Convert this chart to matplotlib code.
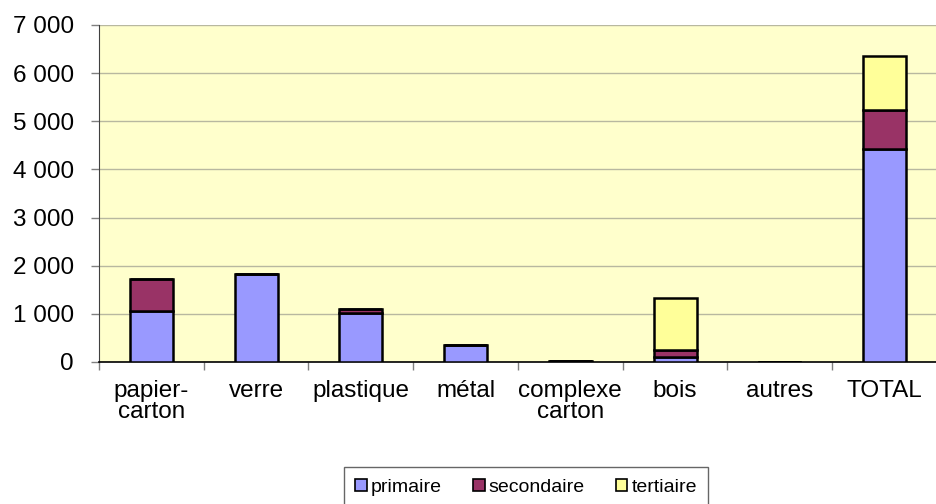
import matplotlib
matplotlib.use("Agg")
import matplotlib.pyplot as plt
import numpy as np
from matplotlib.patches import Patch

categories = ["papier-\ncarton", "verre", "plastique", "métal", "complexe\ncarton", "bois", "autres", "TOTAL"]
primaire = [1060, 1830, 1025, 350, 15, 110, 10, 4425]
secondaire = [665, 0, 80, 0, 0, 140, 0, 805]
tertiaire = [0, 0, 0, 0, 0, 1085, 0, 1130]
series_names = ["primaire", "secondaire", "tertiaire"]
colors = ["#9999FF", "#993366", "#FFFF99"]

plt.rcParams["font.family"] = ["Liberation Sans", "DejaVu Sans"]

fig = plt.figure(figsize=(9.37, 5.04), dpi=100)
ax = fig.add_axes([99 / 937, 1 - 362 / 504, 1 - 99 / 937, (362 - 25) / 504])
ax.set_facecolor("#FFFFCC")

x = np.arange(len(categories))
bottom = np.zeros(len(categories))
for vals, col in zip([primaire, secondaire, tertiaire], colors):
    vals = np.array(vals, dtype=float)
    ax.bar(x, vals, width=0.41, bottom=bottom, color=col, edgecolor="black",
           linewidth=1.8, zorder=3)
    bottom += vals

ax.set_xlim(-0.5, len(categories) - 0.5)
ax.set_ylim(0, 7000)
ax.set_yticks(range(0, 7001, 1000))
ax.set_yticklabels([f"{v:,}".replace(",", " ") for v in range(0, 7001, 1000)])
ax.yaxis.grid(True, color="#B8B8A0", linewidth=1, zorder=0)
ax.set_axisbelow(True)

ax.set_xticks(x)
ax.set_xticklabels(categories, linespacing=0.95)
ax.set_xticks(np.arange(-0.5, len(categories), 1), minor=True)
ax.tick_params(axis="x", which="major", length=0, pad=13, labelsize=17.5)
ax.tick_params(axis="x", which="minor", length=6, color="#808080", width=1)
ax.tick_params(axis="y", length=6, color="#808080", width=1, pad=12, labelsize=17.5)

ax.spines["top"].set_visible(False)
ax.spines["right"].set_visible(False)
ax.spines["left"].set_color("#404040")
ax.spines["bottom"].set_color("black")
ax.spines["bottom"].set_linewidth(1.2)

handles = [Patch(facecolor=c, edgecolor="black", linewidth=1.2) for c in colors]
leg = fig.legend(handles, series_names, loc="upper center", ncol=3,
                 bbox_to_anchor=(526 / 937, 1 - 467 / 504), borderaxespad=0,
                 frameon=True, fancybox=False, edgecolor="#404040", fontsize=14,
                 handlelength=0.6, handleheight=0.6, handletextpad=0.2,
                 columnspacing=1.6, borderpad=0.6)
leg.get_frame().set_linewidth(1)

fig.savefig("out.png", dpi=100)
